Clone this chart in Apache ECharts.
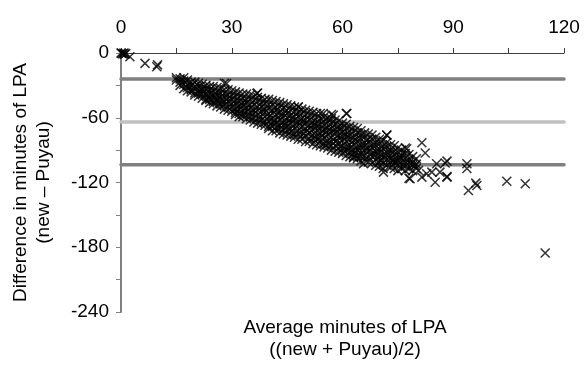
<!DOCTYPE html>
<html><head><meta charset="utf-8">
<script src="https://cdn.jsdelivr.net/npm/echarts@6/dist/echarts.min.js"></script>
<style>html,body{margin:0;padding:0;background:#fff}#c{width:584px;height:365px}</style>
</head><body><div id="c"></div>
<script>
// Average (x) and difference (y)
const nearZero = [[0,0],[0.2,-0.3],[0.5,-0.8],[0.8,0],[1,-1.2],[1.3,-0.4],[2.4,-3.4],[6.5,-9.6],[9.7,-12.7],[9.9,-11]];
// dense band: one column per average value, differences
const bandX = [15,16,17,18,19,20,21,22,23,24,25,26,27,28,29,30,31,32,33,34,35,36,37,38,39,40,41,42,43,44,45,46,47,48,49,50,51,52,53,54,55,56,57,58,59,60,61,62,63,64,65,66,67,68,69,70,71,72,73,74,75,76,77,78,79,80];
const bandY = [
[-25,-23],[-24,-27,-30],[-23,-26,-29,-33],[-25,-29,-32,-35],[-27,-30,-34,-36],
[-27,-31,-33,-37,-39],[-28,-31,-35,-37,-40],[-29,-33,-35,-38,-42],[-30,-33,-37,-39,-43,-44],[-31,-34,-37,-41,-43,-46],
[-31,-35,-39,-41,-45,-47],[-32,-36,-39,-43,-45,-49],[-33,-37,-41,-43,-47,-50],[-28,-34,-37,-41,-45,-48,-52],[-34,-39,-42,-45,-50,-53],
[-35,-39,-43,-47,-50,-54],[-36,-40,-44,-47,-52,-55,-57],[-37,-41,-45,-49,-52,-56,-59],[-38,-42,-46,-49,-53,-57,-59],[-38,-43,-46,-51,-54,-58,-61],
[-39,-43,-48,-51,-55,-59,-62],[-40,-44,-48,-53,-56,-60,-64],[-37,-41,-45,-50,-53,-57,-61,-65],[-42,-46,-50,-54,-59,-62,-66],[-43,-47,-52,-55,-59,-64,-67],
[-43,-48,-51,-56,-59,-63,-68,-70],[-44,-48,-53,-56,-61,-64,-68,-72],[-45,-50,-53,-57,-62,-65,-69,-72],[-46,-50,-55,-58,-62,-67,-70,-74],[-47,-51,-56,-59,-64,-67,-71,-75],
[-48,-53,-56,-60,-65,-68,-72,-76],[-49,-53,-58,-61,-65,-70,-73,-77],[-50,-54,-59,-62,-66,-70,-75,-78],[-50,-55,-59,-64,-67,-72,-75,-80],[-52,-56,-61,-64,-68,-73,-76,-80],
[-53,-57,-62,-65,-70,-73,-77,-82],[-54,-58,-62,-67,-70,-74,-79,-82],[-55,-59,-64,-67,-71,-76,-79,-84],[-56,-60,-65,-68,-72,-77,-80,-85],[-56,-61,-66,-70,-74,-78,-82,-86],
[-59,-63,-67,-71,-75,-79,-84,-87],[-60,-64,-69,-72,-76,-81,-84,-88],[-57,-61,-65,-70,-73,-78,-82,-86,-90],[-62,-66,-71,-74,-79,-82,-86,-91],[-63,-68,-71,-76,-79,-84,-88,-92],
[-65,-69,-73,-77,-81,-86,-89,-93],[-56,-66,-70,-75,-78,-82,-87,-90,-95],[-68,-72,-76,-80,-85,-88,-92,-96],[-69,-73,-78,-81,-85,-90,-93,-97],[-70,-74,-79,-82,-87,-90,-95,-98],
[-72,-76,-80,-85,-88,-93,-96,-100],[-74,-78,-83,-86,-90,-95,-99],[-75,-80,-83,-88,-91,-96,-101],[-76,-80,-85,-88,-93,-96,-102],[-78,-83,-86,-91,-94,-99,-104],
[-80,-84,-89,-92,-96,-101,-105],[-81,-86,-89,-94,-97,-102,-107],[-76,-83,-87,-92,-95,-99,-104],[-85,-90,-93,-98,-101,-106],[-86,-91,-94,-99,-102,-107],
[-88,-92,-97,-100,-104,-109],[-90,-95,-98,-103,-107],[-88,-93,-97,-101,-105,-109],[-94,-99,-102,-107,-116],[-96,-101,-104,-109],[-98,-103,-107]
];
const sparse = [[28.6,-28.2],[36.8,-37.5],[48,-50],[54.8,-56],[57.5,-57.7],[61.2,-56],[63,-96.5],[65.7,-102.6],[70.2,-99.5],[71.1,-110.4],[72,-76.3],[73.8,-99.5],[75.6,-96.5],[77.4,-88.7],[78.3,-116.6],[79.7,-104.2],[80.6,-108.8],[81.5,-83.1],[82.4,-92.7],[81.5,-115],[82.8,-111.9],[84.2,-110.4],[85.5,-102.6],[85.1,-119.7],[86.4,-110.4],[87.8,-102],[88.3,-100.2],[88.3,-114.4],[88.3,-115],[93.7,-102.6],[93.7,-107],[94.1,-127.4],[96.1,-120.6],[96.4,-122.8],[104.5,-118.8],[109.5,-121.2],[114.9,-185.4]];
const limitValues = [-24, -64, -103.5];
const xTicks = [0, 30, 60, 90, 120];
const yTicks = [0, -60, -120, -180, -240];

const points = nearZero.slice();
bandX.forEach((x, i) => bandY[i].forEach(y => points.push([x, y])));
sparse.forEach(p => points.push(p));

const chart = echarts.init(document.getElementById('c'));
const font = 'Liberation Sans, Arial, sans-serif';
const lineColors = ['#808080', '#c0c0c0', '#808080'];
chart.setOption({
  animation: false,
  grid: { left: 121, right: 20, top: 53, bottom: 53 },
  xAxis: {
    type: 'value', position: 'top', min: 0, max: 120, interval: 15,
    axisLine: { show: true, lineStyle: { color: '#404040', width: 1 } },
    axisTick: { show: true, length: 5, lineStyle: { color: '#404040' } },
    axisLabel: { margin: 16, fontFamily: font, fontSize: 19, color: '#000',
      formatter: v => xTicks.indexOf(v) >= 0 ? String(v) : '' },
    splitLine: { show: false }
  },
  yAxis: {
    type: 'value', min: -240, max: 0, interval: 30,
    name: 'Difference in minutes of LPA\n(new \u2013 Puyau)',
    nameLocation: 'middle', nameGap: 66, nameRotate: 90,
    nameTextStyle: { fontFamily: font, fontSize: 19, color: '#000', lineHeight: 23 },
    axisLine: { show: true, lineStyle: { color: '#808080', width: 2 } },
    axisTick: { show: true, length: 5, lineStyle: { color: '#808080' } },
    axisLabel: { margin: 12, fontFamily: font, fontSize: 19, color: '#000',
      formatter: v => yTicks.indexOf(v) >= 0 ? String(v) : '' },
    splitLine: { show: false }
  },
  graphic: [{
    type: 'text', x: 345, y: 317,
    style: { text: 'Average minutes of LPA\n((new + Puyau)/2)', font: '19px ' + font, fill: '#000', textAlign: 'center', textVerticalAlign: 'top', lineHeight: 22 }
  }],
  series: limitValues.map((v, i) => ({
    type: 'line', data: [[0, v], [120, v]], symbol: 'none', silent: true, z: 1,
    lineStyle: { color: lineColors[i], width: 3.5, cap: 'round' }
  })).concat([{
    type: 'scatter', data: points, z: 5,
    symbol: 'path://M0,0 L10,10 M10,0 L0,10', symbolSize: 9,
    itemStyle: { color: 'none', borderColor: '#000', borderWidth: 1.5 }
  }])
});
</script></body></html>
